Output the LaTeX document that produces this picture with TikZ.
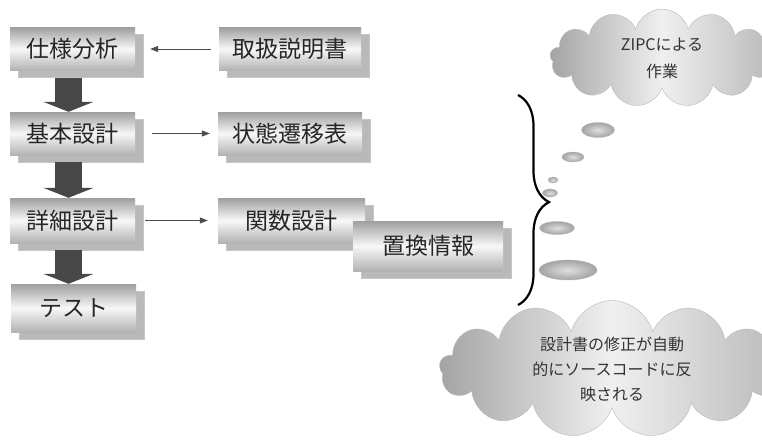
\documentclass[tikz,border=0pt]{standalone}
\usepackage{fontspec}
\setmainfont{Noto Sans CJK JP}
\usetikzlibrary{shapes.symbols,shapes.geometric,shadows,arrows.meta,decorations.pathreplacing}
\begin{document}
\begin{tikzpicture}[x=1pt,y=-1pt,
  plate/.style={rectangle, minimum width=125pt, minimum height=43pt, inner sep=0pt,
    top color=gray!75, bottom color=gray!60, middle color=gray!6,
    copy shadow={shadow xshift=8pt, shadow yshift=-7pt, fill=gray!55, draw=gray!45},
    font=\fontsize{23}{23}\selectfont, text=black!85},
  bigarrow/.style={line width=27pt, draw=black!72, -{Triangle[width=50pt,length=10pt]}},
  thinarrow/.style={draw=black!70, line width=0.8pt, -{Triangle[width=6pt,length=8pt]}},
  thought/.style={cloud, cloud puffs=13, cloud ignores aspect, inner sep=0pt,
    left color=gray!72, right color=gray!55, middle color=gray!12, draw=gray!55,
    text=black!80, align=center},
  bubble/.style={ellipse, inner sep=0pt, inner color=gray!25, outer color=gray!72, draw=gray!55}
]
\useasboundingbox (0,0) rectangle (762,442);

% boxes
\node[plate] (spec) at (72.5,49) {仕様分析};
\node[plate, minimum width=142pt] (manual) at (290,49) {取扱説明書};
\node[plate] (basic) at (72.5,133.5) {基本設計};
\node[plate, minimum width=144pt] (state) at (290,133.5) {状態遷移表};
\node[plate, minimum height=45pt] (detail) at (72.5,220.5) {詳細設計};
\node[plate, minimum width=147pt, minimum height=45pt] (func) at (291.5,220.5) {関数設計};
\node[plate, minimum width=150pt, minimum height=50pt] (subst) at (428,246) {置換情報};
\node[plate, minimum height=48pt] (test) at (73.5,308) {テスト};

% thick flow arrows
\draw[bigarrow] ([xshift=-4pt,yshift=-7pt]spec.south) -- ([xshift=-4pt]basic.north);
\draw[bigarrow] ([xshift=-4pt,yshift=-7pt]basic.south) -- ([xshift=-4pt]detail.north);
\draw[bigarrow] ([xshift=-4pt,yshift=-7pt]detail.south) -- ([xshift=-5pt]test.north);

% thin arrows
\draw[thinarrow, shorten <=8pt, shorten >=15pt] (manual.west) -- (spec.east);
\draw[thinarrow, shorten <=17pt, shorten >=8pt] (basic.east) -- (state.west);
\draw[thinarrow, shorten <=10pt, shorten >=10pt] (detail.east) -- (func.west);

% brace
\coordinate (btop) at (518,95);
\coordinate (bbot) at (518,305);
\draw[line width=2.2pt, decorate, decoration={brace, amplitude=31pt, aspect=0.51}] (btop) -- (bbot);

% thought bubbles
\node[bubble, minimum width=33pt, minimum height=15pt] (b1) at (598,130) {};
\node[bubble, minimum width=22pt, minimum height=10pt] (b2) at (573,157) {};
\node[bubble, minimum width=10pt, minimum height=6pt] (b3) at (553,180) {};
\node[bubble, minimum width=15pt, minimum height=8pt] (b4) at (550,193) {};
\node[bubble, minimum width=35pt, minimum height=13pt] (b5) at (557,228) {};
\node[bubble, minimum width=58pt, minimum height=20pt] (b6) at (568,270) {};

% clouds
\node[thought, minimum width=224pt, minimum height=98pt,
  font=\fontsize{16}{27}\selectfont] (zipc) at (662,58) {ZIPCによる\\作業};
\node[thought, minimum width=345pt, minimum height=137pt,
  font=\fontsize{16}{25}\selectfont] (auto) at (612,369)
  {設計書の修正が自動\\的にソースコードに反\\映される};
\end{tikzpicture}
\end{document}
